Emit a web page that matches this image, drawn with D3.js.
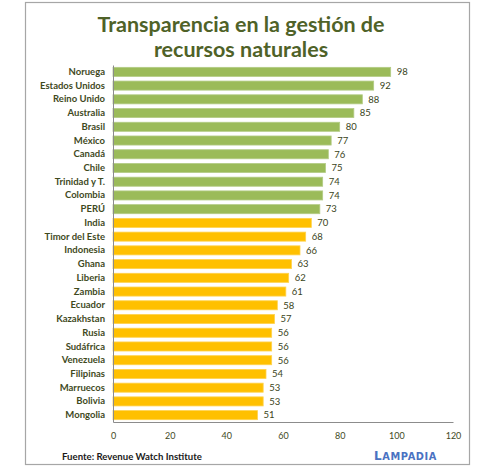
<!DOCTYPE html>
<html>
<head>
<meta charset="utf-8">
<script src="https://cdn.jsdelivr.net/npm/d3@7"></script>
<style>
  html, body { margin: 0; padding: 0; background: #fff; }
  svg { display: block; }
</style>
</head>
<body>
<svg id="chart" width="495" height="470"></svg>
<script>
const categories = ["Noruega","Estados Unidos","Reino Unido","Australia","Brasil","México","Canadá","Chile","Trinidad y T.","Colombia","PERÚ","India","Timor del Este","Indonesia","Ghana","Liberia","Zambia","Ecuador","Kazakhstan","Rusia","Sudáfrica","Venezuela","Filipinas","Marruecos","Bolivia","Mongolia"];
const values = [98,92,88,85,80,77,76,75,74,74,73,70,68,66,63,62,61,58,57,56,56,56,54,53,53,51];
const groups = ["top","top","top","top","top","top","top","top","top","top","top","rest","rest","rest","rest","rest","rest","rest","rest","rest","rest","rest","rest","rest","rest","rest"];
const xTicks = [0,20,40,60,80,100,120];
const titleLines = ["Transparencia en la gestión de","recursos naturales"];
const sourceText = "Fuente: Revenue Watch Institute";
const brandText = "LAMPADIA";

const colors = { top: "#9BBB59", rest: "#FFC000" };
const strokes = { top: "#B3CB85", rest: "#FFD24D" };
const font = "Lato, 'Open Sans', sans-serif";

const svg = d3.select("#chart");

// outer frame
svg.append("rect").attr("x", 25.5).attr("y", 2.5).attr("width", 444).attr("height", 462)
  .attr("fill", "#fff").attr("stroke", "#A6A6A6").attr("stroke-width", 1.2);

// title
svg.append("g").selectAll("text").data(titleLines).join("text")
  .attr("x", 241).attr("y", (d, i) => 32 + i * 25)
  .attr("text-anchor", "middle")
  .attr("font-family", font).attr("font-weight", "bold").attr("font-size", 21.5)
  .attr("fill", "#4F6228").text(d => d);

const pLeft = 113, pRight = 453, pTop = 65, pBottom = 422;
const x = d3.scaleLinear().domain([0, 120]).range([pLeft, pRight]);
const y = d3.scaleBand().domain(categories).range([pTop, pBottom]).paddingInner(0.34).paddingOuter(0.17);

const data = categories.map((c, i) => ({ c, v: values[i], g: groups[i] }));

// bars
svg.append("g").selectAll("rect").data(data).join("rect")
  .attr("x", x(0)).attr("y", d => y(d.c))
  .attr("width", d => x(d.v) - x(0)).attr("height", y.bandwidth())
  .attr("fill", d => colors[d.g]).attr("stroke", d => strokes[d.g]).attr("stroke-width", 0.8);

// value labels
svg.append("g").selectAll("text").data(data).join("text")
  .attr("x", d => x(d.v) + 6).attr("y", d => y(d.c) + y.bandwidth() / 2)
  .attr("dy", "0.35em")
  .attr("font-family", font).attr("font-size", 9.5)
  .attr("fill", "#3A4419").text(d => d.v);

// y axis (category labels)
const yAxis = d3.axisLeft(y).tickSize(0).tickPadding(8);
const gy = svg.append("g").attr("transform", `translate(${pLeft},0)`).call(yAxis);
gy.select(".domain").attr("stroke", "#8C8C8C").attr("stroke-width", 1);
gy.selectAll("text").attr("font-family", font).attr("font-size", 9.5).attr("font-weight", "bold")
  .attr("fill", "#3F4A1E");

// x axis
const xAxis = d3.axisBottom(x).tickValues(xTicks).tickSize(0).tickPadding(11);
const gx = svg.append("g").attr("transform", `translate(0,${pBottom})`).call(xAxis);
gx.select(".domain").attr("stroke", "#8C8C8C").attr("stroke-width", 1);
gx.selectAll("text").attr("font-family", font).attr("font-size", 9)
  .attr("fill", "#3F4A1E");

// source
svg.append("text").attr("x", 62).attr("y", 460)
  .attr("font-family", font).attr("font-weight", "bold").attr("font-size", 9.6)
  .attr("fill", "#1a1a1a").text(sourceText);

// brand (small caps look)
const brand = svg.append("text").attr("x", 437).attr("y", 460).attr("text-anchor", "end")
  .attr("font-family", "'DejaVu Sans', sans-serif").attr("font-weight", "bold")
  .attr("letter-spacing", 0.6).attr("fill", "#4A72C2");
brand.append("tspan").attr("font-size", 12).text(brandText.slice(0, 1));
brand.append("tspan").attr("font-size", 9.8).text(brandText.slice(1));
</script>
</body>
</html>
